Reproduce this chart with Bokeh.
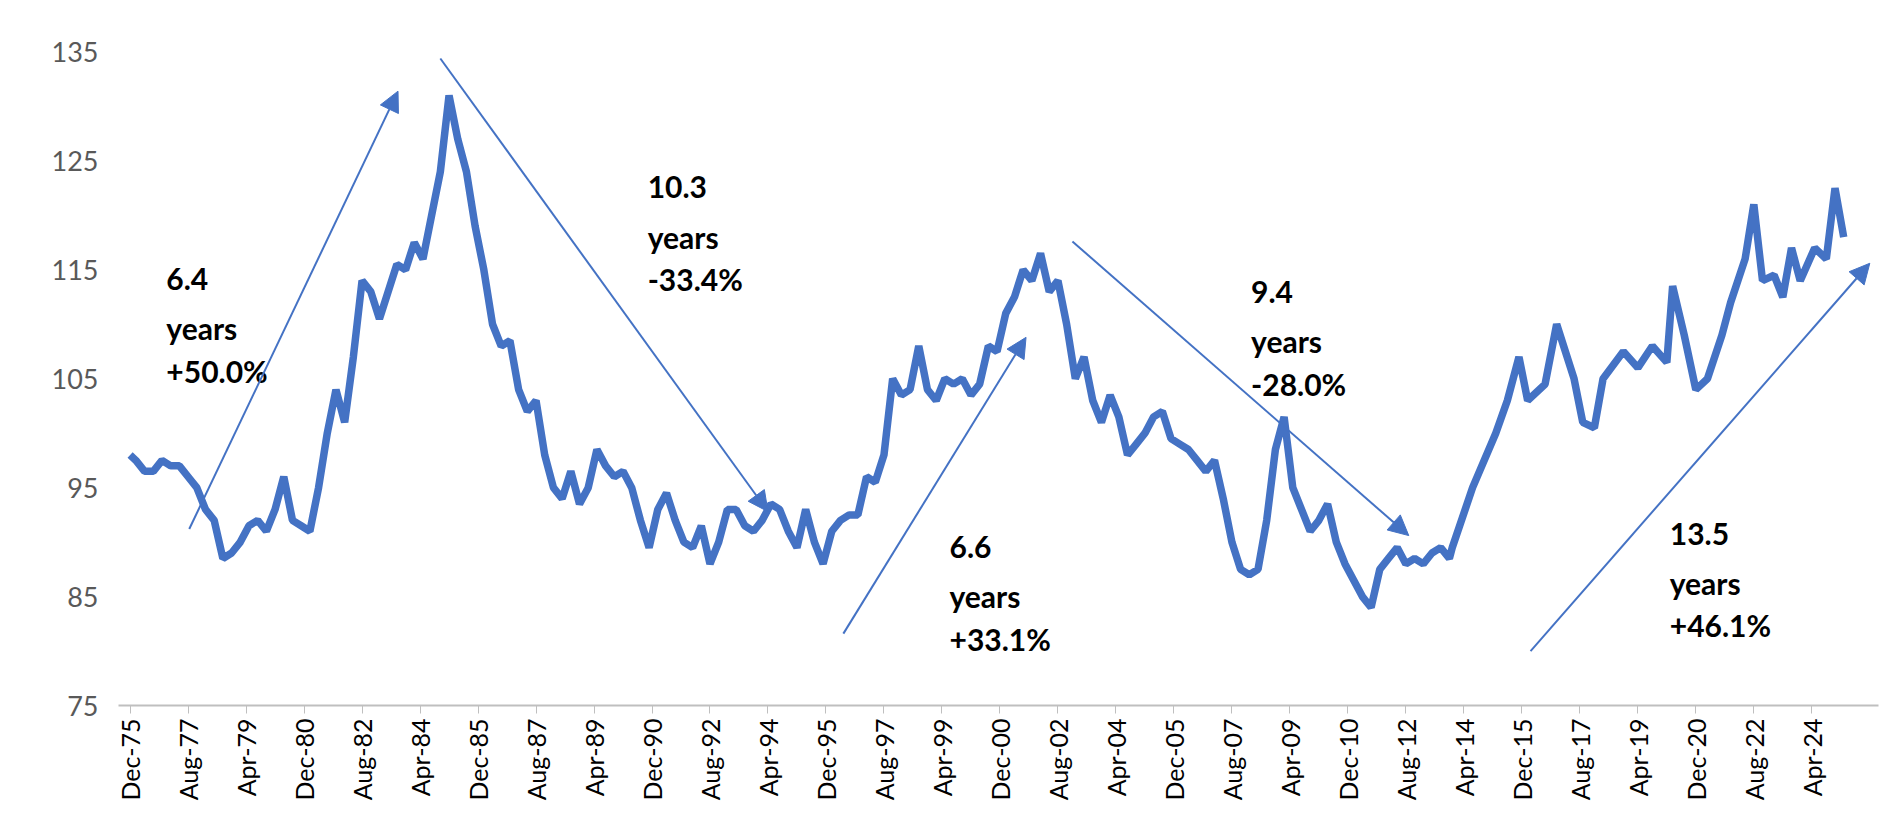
import numpy as np
from bokeh.plotting import figure
from bokeh.models import Arrow, NormalHead, FixedTicker, Range1d
from bokeh.core.properties import value
from bokeh.embed import file_html
from bokeh.resources import INLINE

quarterly_years = list(range(1976, 2014))
quarterly_values = [
    [97.5, 96.5, 96.5, 97.5], [97, 97, 96, 95], [93, 92, 88.5, 89], [90, 91.5, 92, 91],
    [93, 96, 92, 91.5], [91, 95, 100, 104], [101, 107, 114, 113], [110.5, 113, 115.5, 115],
    [117.5, 116, 120, 124], [131, 127, 124, 119], [115, 110, 108, 108.5], [104, 102, 103, 98],
    [95, 94, 96.5, 93.5], [95, 98.5, 97, 96], [96.5, 95, 92, 89.5], [93, 94.5, 92, 90],
    [89.5, 91.5, 88, 90], [93, 93, 91.5, 91], [92, 93.5, 93, 91], [89.5, 93, 90, 88],
    [91, 92, 92.5, 92.5], [96, 95.5, 98, 105], [103.5, 104, 108, 104], [103, 105, 104.5, 105],
    [103.5, 104.5, 108, 107.5], [111, 112.5, 115, 114], [116.5, 113, 114, 110], [105, 107, 103, 101],
    [103.5, 101.5, 98, 99], [100, 101.5, 102, 99.5], [99, 98.5, 97.5, 96.5], [97.5, 94, 90, 87.5],
    [87, 87.5, 92, 98.5], [101.5, 95, 93, 91], [92, 93.5, 90, 88], [86.5, 85, 84, 87.5],
    [88.5, 89.5, 88, 88.5], [88, 89, 89.5, 88.5],
]
recent_months = [456, 463, 471, 475, 479, 482, 488, 492, 498, 501, 505, 508, 515, 520, 525, 530,
                 532, 536, 540, 544, 549, 552, 557, 560, 563, 567, 570, 573, 576, 581, 585, 588, 591]
recent_values = [89.5, 95, 100, 103, 107, 103, 104.5, 110, 105, 101, 100.5, 105, 107.5, 106, 108, 106.5,
                 113.5, 109, 104, 105, 109, 112, 116, 121, 114, 114.5, 112.5, 117, 114, 117, 116, 122.5, 118]

xs = [0]; ys = [98]
for yr, vals in zip(quarterly_years, quarterly_values):
    for mon, v in zip([2, 5, 8, 11], vals):
        xs.append((yr - 1975) * 12 + mon - 12); ys.append(v)
xs += recent_months; ys += recent_values

tick_labels = ["Dec-75","Aug-77","Apr-79","Dec-80","Aug-82","Apr-84","Dec-85","Aug-87","Apr-89","Dec-90",
               "Aug-92","Apr-94","Dec-95","Aug-97","Apr-99","Dec-00","Aug-02","Apr-04","Dec-05","Aug-07",
               "Apr-09","Dec-10","Aug-12","Apr-14","Dec-15","Aug-17","Apr-19","Dec-20","Aug-22","Apr-24"]
tick_pos = [20 * i for i in range(len(tick_labels))]

arrows = [(20.4, 91.2, 92.4, 131.4), (107, 134.4, 220, 92.8), (246, 81.6, 309, 108.8),
          (325, 117.6, 441, 90.6), (483, 80, 600, 115.6)]
notes = [(12.5, 115.2, ["6.4", "years", "+50.0%"]), (178.5, 123.6, ["10.3", "years", "-33.4%"]),
         (282.6, 90.6, ["6.6", "years", "+33.1%"]), (386.6, 114, ["9.4", "years", "-28.0%"]),
         (531, 91.8, ["13.5", "years", "+46.1%"])]

blue = "#4472C4"
p = figure(width=1882, height=803, output_backend="svg", toolbar_location=None,
           x_range=Range1d(-4, 603), y_range=Range1d(75, 135.5), min_border_left=118,
           min_border_top=46, min_border_right=4)
p.outline_line_color = None
p.grid.grid_line_color = None
p.line(xs, ys, line_color=blue, line_width=7.5)

for x0, y0, x1, y1 in arrows:
    p.add_layout(Arrow(end=NormalHead(size=20, fill_color=blue, line_color=blue),
                       x_start=x0, y_start=y0, x_end=x1, y_end=y1, line_color=blue, line_width=2))
for x, y, lines in notes:
    p.text([x]*3, [y - 3.9*i for i in range(3)], text=lines, text_font_size="30px",
           text_font_style="bold", text_baseline="top", text_color="black", text_font=value("Lato"))

p.yaxis.ticker = FixedTicker(ticks=list(range(75, 136, 10)))
p.yaxis.axis_line_color = None
p.yaxis.major_tick_line_color = None
p.yaxis.minor_tick_line_color = None
p.yaxis.major_label_text_font_size = "27px"
p.yaxis.major_label_text_color = "#595959"
p.yaxis.major_label_text_font = "Lato"
p.yaxis.major_label_standoff = 14

p.xaxis.ticker = FixedTicker(ticks=tick_pos)
p.xaxis.major_label_overrides = {t: l for t, l in zip(tick_pos, tick_labels)}
p.xaxis.major_label_orientation = np.pi / 2
p.xaxis.major_label_text_font_size = "25px"
p.xaxis.major_label_text_font = "Lato"
p.xaxis.major_label_text_color = "black"
p.xaxis.axis_line_color = "#BFBFBF"
p.xaxis.axis_line_width = 2
p.xaxis.major_tick_line_color = "#BFBFBF"
p.xaxis.major_tick_out = 8
p.xaxis.major_tick_in = 0
p.xaxis.minor_tick_line_color = None

open("out.html", "w").write(file_html(p, INLINE))
